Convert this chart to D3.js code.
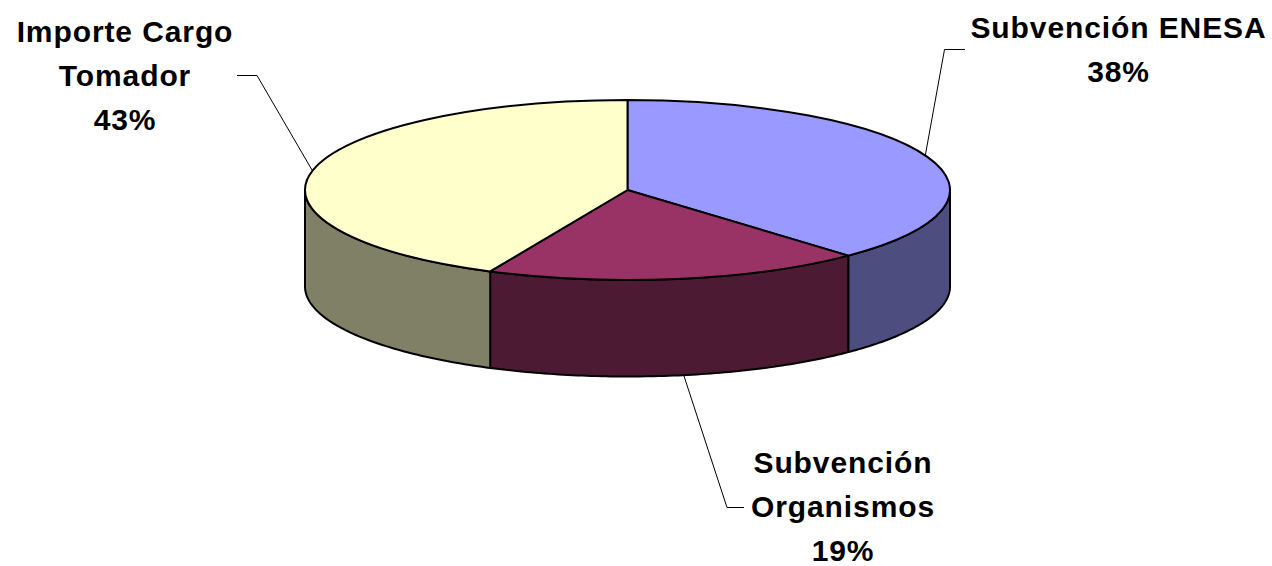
<!DOCTYPE html>
<html><head><meta charset="utf-8">
<script src="https://cdn.jsdelivr.net/npm/d3@7"></script>
<style>html,body{margin:0;padding:0;background:#fff}svg{display:block}
text{font-family:"Liberation Sans",Arial,sans-serif;font-weight:700;font-size:30px;letter-spacing:0.9px;fill:#000;text-anchor:middle}</style>
</head><body><svg id="c" width="1272" height="566"></svg>
<script>
const categories = ["Subvención ENESA", "Subvención Organismos", "Importe Cargo Tomador"];
const values = [38, 19, 43];
const topColors = ["#9999ff", "#993366", "#ffffcc"];
const sideColors = ["#4d4d80", "#4d1a33", "#808066"];
const labelLines = [["Subvención ENESA", "38%"], ["Subvención", "Organismos", "19%"], ["Importe Cargo", "Tomador", "43%"]];
const labelAnchors = [[1118.5, 38], [843, 473], [125, 42]];
const leaderPaths = [[[925,157],[944.5,49.5],[965,49.5]], [[683,373],[727,507.5],[744,507.5]], [[312,170],[257,75.5],[237,75.5]]];

const cx = 627.5, cy = 190, rx = 322.5, ry = 90, depth = 96.5;
const svg = d3.select("#c");
const px = a => cx + rx * Math.sin(a), py = a => cy - ry * Math.cos(a);
const pie = d3.pie().sort(null).value(d => d)(values);
const line = d3.line();
const sample = (a0, a1, n = 80) => d3.range(n + 1).map(i => a0 + (a1 - a0) * i / n);
const stroke = "#000";

// leader lines go under the pie
leaderPaths.forEach(p => svg.append("path").attr("d", line(p)).attr("fill", "none").attr("stroke", stroke).attr("stroke-width", 1));

// side walls: the visible front part of each slice rim
pie.forEach((s, i) => {
  const a0 = Math.max(s.startAngle, Math.PI / 2), a1 = Math.min(s.endAngle, 3 * Math.PI / 2);
  if (a1 <= a0) return;
  const angles = sample(a0, a1);
  const pts = angles.map(a => [px(a), py(a)]).concat(angles.slice().reverse().map(a => [px(a), py(a) + depth]));
  svg.append("path").attr("d", line(pts) + "Z").attr("fill", sideColors[i]).attr("stroke", stroke).attr("stroke-width", 2).attr("stroke-linejoin", "round");
});

// top face, drawn as a circle arc squashed to an ellipse
const arc = d3.arc().innerRadius(0).outerRadius(rx);
const g = svg.append("g").attr("transform", `translate(${cx},${cy}) scale(1,${ry / rx})`);
g.selectAll("path").data(pie).join("path")
  .attr("d", arc).attr("fill", (d, i) => topColors[i])
  .attr("stroke", stroke).attr("stroke-width", 2).attr("vector-effect", "non-scaling-stroke");

// labels
labelLines.forEach((ls, i) => {
  const t = svg.append("text").attr("x", labelAnchors[i][0]).attr("y", labelAnchors[i][1]);
  ls.forEach((l, j) => t.append("tspan").attr("x", labelAnchors[i][0]).attr("y", labelAnchors[i][1] + j * 44).text(l));
});
</script></body></html>
